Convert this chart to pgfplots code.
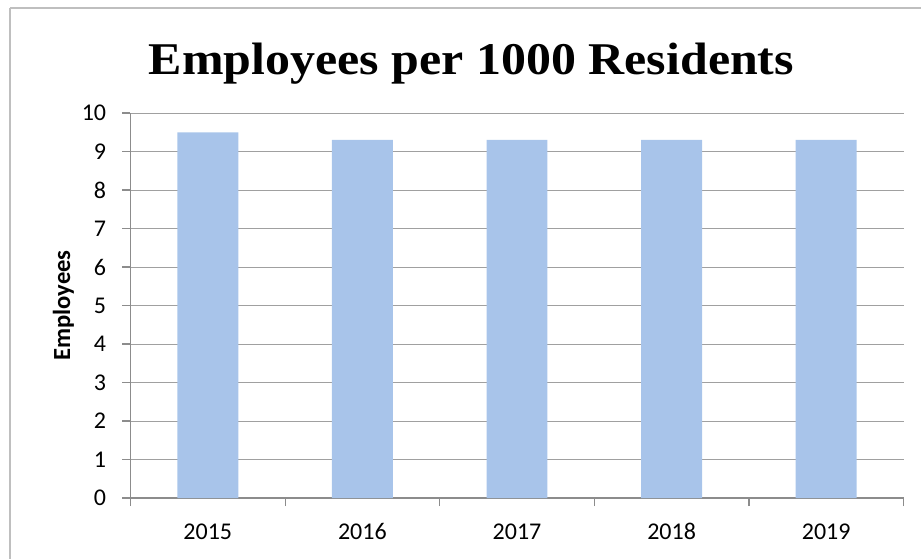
\documentclass[border=0pt]{standalone}
\usepackage{pgfplots}
\pgfplotsset{compat=1.18}
\usepackage{fontspec}
\setmainfont{Carlito}
\newfontfamily\titlefont{Liberation Serif}
\definecolor{barblue}{RGB}{168,196,234}
\definecolor{gridgray}{RGB}{160,160,160}
\definecolor{axisgray}{RGB}{140,140,140}
\begin{document}
\begin{tikzpicture}[x=1pt,y=1pt]
\useasboundingbox (-65.25,-30) rectangle (395.25,249);
\draw[gray!50, line width=0.6pt] (-60.25,245) -- (400,245);
\draw[gray!50, line width=0.6pt] (-60.25,245) -- (-60.25,-35);
\begin{axis}[
  at={(0,0)}, anchor=south west, scale only axis,
  width=386.5pt, height=192.5pt,
  ymin=0, ymax=10, xmin=-0.5, xmax=4.5,
  ytick={0,1,...,10},
  /pgf/number format/assume math mode=true,
  xtick={-0.5,0.5,1.5,2.5,3.5,4.5}, xticklabels={},
  extra x ticks={0,1,2,3,4}, extra x tick labels={2015,2016,2017,2018,2019},
  extra x tick style={major tick length=0pt},
  axis x line*=bottom, axis y line*=left,
  axis line style={axisgray, line width=0.6pt},
  ymajorgrids, grid style={gridgray, line width=0.5pt},
  tick align=outside,
  major tick length=4pt,
  tick style={axisgray, line width=0.6pt},
  tick label style={font=\fontsize{12}{14}\selectfont},
  xticklabel style={inner sep=0pt, anchor=base, yshift=-20.5pt},
  yticklabel style={inner sep=0pt, anchor=east, xshift=-8pt},
  every axis y label/.style={at={(axis description cs:-0.0725,0.5)}, rotate=90, anchor=south, inner sep=0pt, font=\fontsize{12.3}{14}\selectfont\bfseries},
  ylabel={Employees},
  ybar, bar width=0.394,
]
\addplot[fill=barblue, draw=none] coordinates {(0,9.5) (1,9.3) (2,9.3) (3,9.3) (4,9.3)};
\end{axis}
\node[anchor=base, inner sep=0pt, font=\titlefont\bfseries\fontsize{22.7}{27}\selectfont] at (170.5,211.5) {\scalebox{1.1}[1]{Employees per 1000 Residents}};
\end{tikzpicture}
\end{document}
